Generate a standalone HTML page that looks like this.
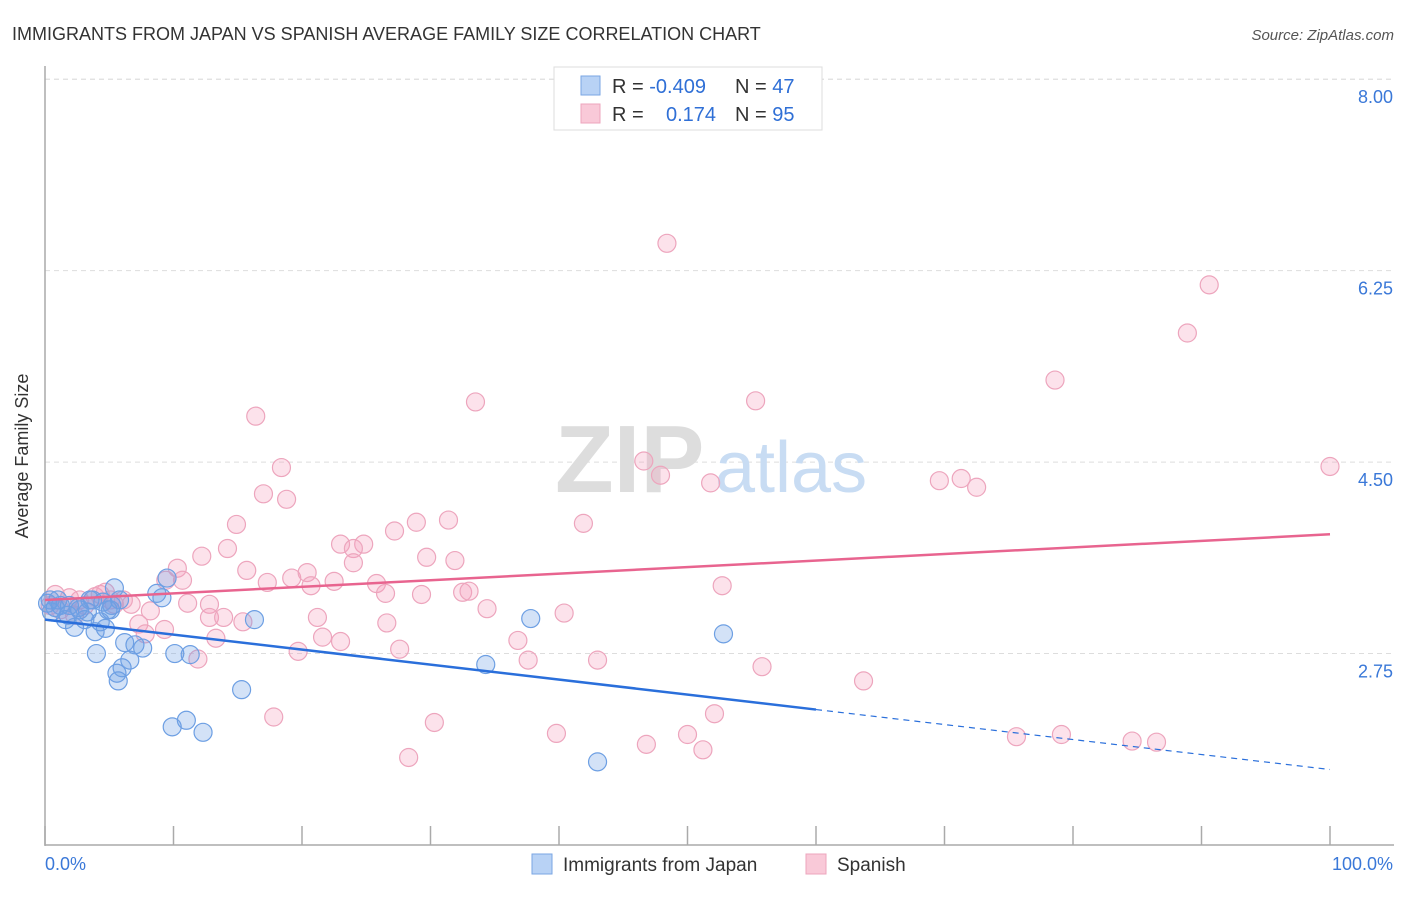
<!DOCTYPE html>
<html><head><meta charset="utf-8"><style>
body{margin:0;background:#fff;font-family:"Liberation Sans",sans-serif;}
svg text{font-family:"Liberation Sans",sans-serif;}
</style></head><body>
<svg id="chart" width="1406" height="892">
<text x="12" y="40" font-size="18" fill="#333">IMMIGRANTS FROM JAPAN VS SPANISH AVERAGE FAMILY SIZE CORRELATION CHART</text>
<text x="1394" y="40" font-size="15" fill="#555" font-style="italic" text-anchor="end">Source: ZipAtlas.com</text>
<text x="28" y="456" font-size="18" fill="#333" text-anchor="middle" transform="rotate(-90 28 456)">Average Family Size</text>
<g id="grid"></g>
<text x="555" y="492" font-size="96" fill="#ddd" font-family="Liberation Serif" font-weight="bold">ZIP</text>
<text x="715" y="492" font-size="72" fill="#c8dcf3">atlas</text>
<g id="pts"></g>
<g id="lines"></g>
<g>
<rect x="554" y="67" width="268" height="63" fill="#fff" stroke="#ddd"/>
<rect x="581" y="76" width="19" height="19" fill="#b8d2f5" stroke="#7aa6e3"/>
<rect x="581" y="104" width="19" height="19" fill="#f9c9d8" stroke="#eda5bd"/>
<text x="612" y="93" font-size="20" fill="#333">R = <tspan fill="#2f6fd6">-0.409</tspan></text>
<text x="735" y="93" font-size="20" fill="#333">N = <tspan fill="#2f6fd6">47</tspan></text>
<text x="612" y="121" font-size="20" fill="#333">R = <tspan fill="#2f6fd6" x="666">0.174</tspan></text>
<text x="735" y="121" font-size="20" fill="#333">N = <tspan fill="#2f6fd6">95</tspan></text>
</g>
<text x="45" y="870" font-size="18" fill="#3a78d8">0.0%</text>
<text x="1393" y="870" font-size="18" fill="#3a78d8" text-anchor="end">100.0%</text>
<rect x="532" y="854" width="20" height="20" fill="#b8d2f5" stroke="#7aa6e3"/>
<text x="563" y="871" font-size="19" fill="#333">Immigrants from Japan</text>
<rect x="806" y="854" width="20" height="20" fill="#f9c9d8" stroke="#eda5bd"/>
<text x="837" y="871" font-size="19" fill="#333">Spanish</text>
</svg>
<script>
const yTicks=[2.75,4.50,6.25,8.00];
const yTickLabels=["2.75","4.50","6.25","8.00"];
const xTicks=[0,10,20,30,40,50,60,70,80,90,100];
const japanX=[0.4,0.8,1.2,1.6,1.9,2.3,2.7,3.1,3.5,3.9,4.0,4.3,4.7,4.9,5.2,5.4,5.6,5.7,6.0,6.2,6.6,7.0,7.6,8.7,9.1,9.5,9.9,10.1,11.0,11.3,12.3,15.3,16.3,34.3,37.8,43.0,52.8,0.2,0.5,1.0,1.8,2.6,3.3,3.7,4.5,5.1,5.8];
const japanY=[3.24,3.17,3.19,3.06,3.19,2.99,3.15,3.06,3.24,2.95,2.75,3.04,2.98,3.15,3.19,3.35,2.57,2.50,2.62,2.85,2.69,2.83,2.80,3.30,3.26,3.44,2.08,2.75,2.14,2.74,2.03,2.42,3.06,2.65,3.07,1.76,2.93,3.21,3.13,3.24,3.10,3.17,3.13,3.24,3.22,3.15,3.24];
const spanishX=[48.4,90.6,88.9,78.6,33.5,55.3,16.4,46.6,18.4,100,47.9,51.8,17.0,18.8,69.6,71.3,72.5,14.9,28.9,31.4,41.9,27.2,23.0,24.8,24.0,12.2,14.2,29.7,31.9,10.3,15.7,24.0,10.7,9.4,17.3,19.2,20.4,20.7,22.5,25.8,26.5,29.3,32.5,33.0,52.7,34.4,40.4,12.8,11.1,6.7,6.1,8.2,12.8,13.9,21.2,15.4,26.6,7.3,9.3,7.8,13.3,21.6,23.0,36.8,19.7,27.6,37.6,43.0,11.9,55.8,63.7,17.8,30.3,39.8,46.8,50.0,51.2,52.1,28.3,75.6,79.1,84.6,86.5,2.7,3.9,5.1,1.9,0.8,0.4,1.2,3.1,4.3,5.4,4.7,2.3];
const spanishY=[6.50,6.12,5.68,5.25,5.05,5.06,4.92,4.51,4.45,4.46,4.38,4.31,4.21,4.16,4.33,4.35,4.27,3.93,3.95,3.97,3.94,3.87,3.75,3.75,3.71,3.64,3.71,3.63,3.60,3.53,3.51,3.58,3.42,3.42,3.40,3.44,3.49,3.37,3.41,3.39,3.30,3.29,3.31,3.32,3.37,3.16,3.12,3.20,3.21,3.20,3.24,3.14,3.08,3.08,3.08,3.04,3.03,3.02,2.97,2.93,2.89,2.90,2.86,2.87,2.77,2.79,2.69,2.69,2.70,2.63,2.50,2.17,2.12,2.02,1.92,2.01,1.87,2.20,1.80,1.99,2.01,1.95,1.94,3.24,3.27,3.24,3.26,3.29,3.19,3.15,3.19,3.29,3.20,3.31,3.10];
const japanTrend=[3.06,1.69]; // value at 0% and 100%
const japanSolidEnd=60;
const spanishTrend=[3.24,3.84];
const NS="http://www.w3.org/2000/svg";
const xs=v=>45+v*12.85;
const ys=v=>845-(v-1)*109.4;
function mk(t,a,p){const e=document.createElementNS(NS,t);for(const k in a)e.setAttribute(k,a[k]);p.appendChild(e);return e;}
const grid=document.getElementById('grid');
yTicks.forEach((t,i)=>{
 const l=mk('line',{x1:45,x2:1394,y1:ys(t),y2:ys(t),stroke:'#ddd','stroke-dasharray':'5,4'},grid);
 
 
 const tx=mk('text',{x:1393,y:ys(t)+24,'font-size':18,fill:'#3a78d8','text-anchor':'end'},grid);
 tx.textContent=yTickLabels[i];
 
 
});
mk('line',{x1:45,x2:1394,y1:ys(8),y2:ys(8),stroke:'#ddd','stroke-dasharray':'5,4'},grid);
const ax=mk('line',{x1:45,x2:45,y1:66,y2:846,stroke:'#aaa','stroke-width':1.5},grid);


const bx=mk('line',{x1:45,x2:1394,y1:845,y2:845,stroke:'#aaa','stroke-width':1.5},grid);


xTicks.forEach(t=>{
 const l=mk('line',{x1:xs(t),x2:xs(t),y1:826,y2:845,stroke:'#aaa','stroke-width':1.5},grid);
 
 
});
const pts=document.getElementById('pts');
spanishX.forEach((x,i)=>{
 const c=mk('circle',{cx:xs(x),cy:ys(spanishY[i]),r:9,fill:'rgba(244,160,188,0.3)',stroke:'#eda5bd','stroke-width':1.2},pts);
 
 
});
japanX.forEach((x,i)=>{
 const c=mk('circle',{cx:xs(x),cy:ys(japanY[i]),r:9,fill:'rgba(110,160,230,0.3)',stroke:'#6d9fe3','stroke-width':1.2},pts);
 
 
});
const lines=document.getElementById('lines');
const jv=p=>japanTrend[0]+(japanTrend[1]-japanTrend[0])*p/100;
const j1=mk('line',{x1:xs(0),y1:ys(jv(0)),x2:xs(japanSolidEnd),y2:ys(jv(japanSolidEnd)),stroke:'#2a6fdb','stroke-width':2.5},lines);


const j2=mk('line',{x1:xs(japanSolidEnd),y1:ys(jv(japanSolidEnd)),x2:xs(100),y2:ys(jv(100)),stroke:'#2a6fdb','stroke-width':1.2,'stroke-dasharray':'6,5'},lines);


const s1=mk('line',{x1:xs(0),y1:ys(spanishTrend[0]),x2:xs(100),y2:ys(spanishTrend[1]),stroke:'#e8648f','stroke-width':2.5},lines);


</script>
</body></html>
